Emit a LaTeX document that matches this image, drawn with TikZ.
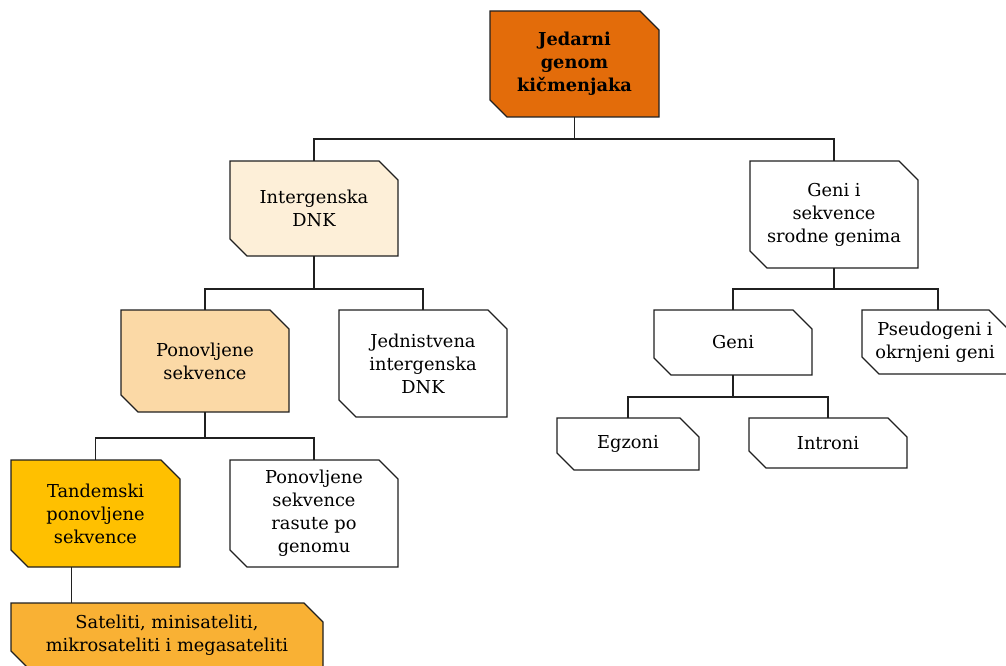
\documentclass[tikz,border=0pt]{standalone}
\usepackage{fontspec}
\setmainfont{DejaVu Serif}
\definecolor{cJed}{HTML}{E36C0A}
\definecolor{cInt}{HTML}{FDEFD8}
\definecolor{cPon}{HTML}{FBD9A6}
\definecolor{cTan}{HTML}{FFC000}
\definecolor{cSat}{HTML}{F9B134}
\definecolor{cLine}{HTML}{202020}
\newcommand{\cutbox}[7]{%
  \node[boxnode, minimum width={(#4-#2)*1pt}, minimum height={(#5-#3)*1pt}] (#1) at ({(#2+#4)/2},{(#3+#5)/2}) {};
  \filldraw[boxline, fill=#6] (#1.north west) -- ([xshift=-19pt]#1.north east) -- ([yshift=-19pt]#1.north east) -- (#1.south east) -- ([xshift=17pt]#1.south west) -- ([yshift=17pt]#1.south west) -- cycle;
  \node[txt] at (#1.center) {#7};
}
\begin{document}
\begin{tikzpicture}[x=1pt,y=-1pt,
  boxnode/.style={rectangle, inner sep=0pt, outer sep=0pt},
  boxline/.style={draw=cLine, line width=1.1pt, line join=miter},
  txt/.style={align=center, font=\fontsize{17.8}{23}\selectfont, text=black},
  conn/.style={draw=cLine, line width=1.1pt}]
\useasboundingbox (0,0) rectangle (1006,666);
\cutbox{jed}{490}{11}{659}{117}{cJed}{\textbf{Jedarni}\\\textbf{genom}\\\textbf{kičmenjaka}}
\cutbox{inter}{230}{161}{398}{256}{cInt}{Intergenska\\DNK}
\cutbox{gs}{750}{161}{918}{268}{white}{Geni i\\sekvence\\srodne genima}
\cutbox{pon}{121}{310}{289}{412}{cPon}{Ponovljene\\sekvence}
\cutbox{jedin}{339}{310}{507}{417}{white}{Jednistvena\\intergenska\\DNK}
\cutbox{geni}{654}{310}{812}{375}{white}{Geni}
\cutbox{pseudo}{862}{310}{1008}{374}{white}{Pseudogeni i\\okrnjeni geni}
\cutbox{egz}{557}{418}{699}{470}{white}{Egzoni}
\cutbox{intr}{749}{418}{907}{468}{white}{Introni}
\cutbox{tan}{11}{460}{180}{567}{cTan}{Tandemski\\ponovljene\\sekvence}
\cutbox{ras}{230}{460}{398}{567}{white}{Ponovljene\\sekvence\\rasute po\\genomu}
\cutbox{sat}{11}{603}{323}{668}{cSat}{Sateliti, minisateliti,\\mikrosateliti i megasateliti}
\draw[conn] (jed.south) -- ++(0,22) -| (inter.north);
\draw[conn] (jed.south) -- ++(0,22) -| (gs.north);
\draw[conn] (inter.south) -- ++(0,33) -| (pon.north);
\draw[conn] (inter.south) -- ++(0,33) -| (jedin.north);
\draw[conn] (gs.south) -- ++(0,21) -| (geni.north);
\draw[conn] (gs.south) -- ++(0,21) -| ([xshift=3pt]pseudo.north);
\draw[conn] (pon.south) -- ++(0,26) -| (tan.north);
\draw[conn] (pon.south) -- ++(0,26) -| (ras.north);
\draw[conn] (geni.south) -- ++(0,22) -| (egz.north);
\draw[conn] (geni.south) -- ++(0,22) -| (intr.north);
\coordinate (tanb) at ([xshift=-24pt]tan.south);
\draw[conn] (tanb) -- (tanb |- sat.north);
\end{tikzpicture}
\end{document}
